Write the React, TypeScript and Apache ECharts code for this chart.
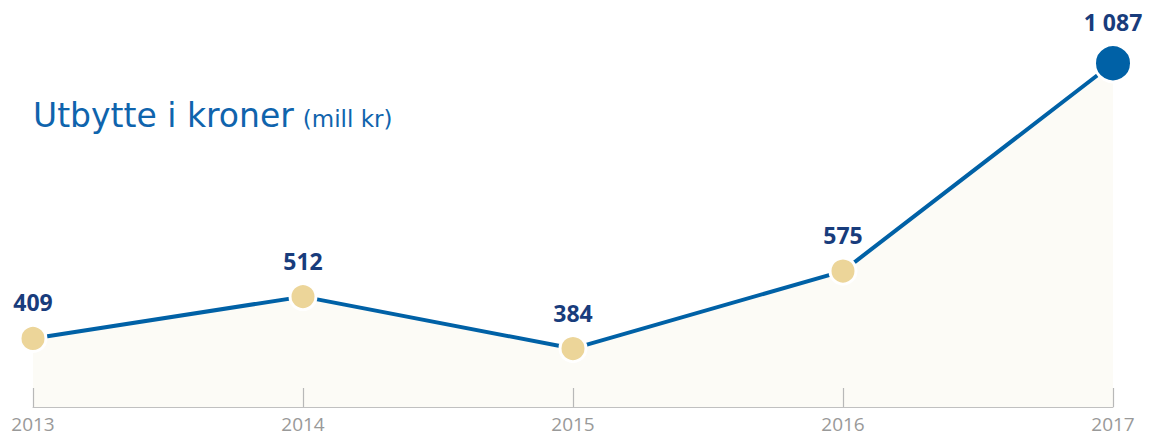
import React, { useEffect, useRef } from "react";
import * as echarts from "echarts";

const years = ["2013", "2014", "2015", "2016", "2017"];
const values = [409, 512, 384, 575, 1087];
const valueLabels = ["409", "512", "384", "575", "1 087"];

export default function App() {
  const ref = useRef<HTMLDivElement>(null);
  useEffect(() => {
    const chart = echarts.init(ref.current!, null, { renderer: "svg" });
    const font = "'Open Sans', 'Noto Sans', sans-serif";
    const titleFont = "'DejaVu Sans', sans-serif";
    const data = values.map((v, i) => {
      const last = i === values.length - 1;
      return {
        value: v,
        symbolSize: last ? 37 : 26,
        itemStyle: {
          color: last ? "#0061a6" : "#ecd599",
          borderColor: "#ffffff",
          borderWidth: 3,
        },
        label: { distance: 10 },
      };
    });
    chart.setOption({
      animation: false,
      textStyle: { fontFamily: font },
      graphic: [
        {
          type: "text",
          left: 33,
          top: 99,
          style: {
            text: "{a|Utbytte i kroner}{b|(mill kr)}",
            rich: {
              a: { fontSize: 33, fill: "#0f64ad", fontFamily: titleFont, fontWeight: 400 },
              b: { fontSize: 23, fill: "#0f64ad", fontFamily: titleFont, fontWeight: 400, padding: [7, 0, 0, 9] },
            },
          },
        },
      ],
      grid: { left: 33, right: 37, top: 58, bottom: 29 },
      xAxis: {
        type: "category",
        data: years,
        boundaryGap: false,
        z: 10,
        axisLine: { lineStyle: { color: "#c0c0c0", width: 1 } },
        axisTick: {
          show: true,
          inside: true,
          length: 19,
          interval: 0,
          lineStyle: { color: "#b8b8b8", width: 1.2 },
        },
        axisLabel: { color: "#999999", fontSize: 19, margin: 7, fontFamily: font },
      },
      yAxis: {
        type: "value",
        min: 240,
        max: 1100,
        show: false,
        splitLine: { show: false },
      },
      series: [
        {
          type: "line",
          data,
          symbol: "circle",
          lineStyle: { color: "#0061a6", width: 4 },
          areaStyle: { color: "#fcfbf6", opacity: 1 },
          z: 1,
          label: {
            show: true,
            position: "top",
            color: "#183c7c",
            fontSize: 23,
            fontWeight: "bold",
            fontFamily: font,
            formatter: (p: any) => valueLabels[p.dataIndex],
          },
        },
      ],
    });
    return () => chart.dispose();
  }, []);
  return (
    <div
      ref={ref}
      style={{ position: "fixed", left: 0, top: 0, width: 1150, height: 436, background: "#fff" }}
    />
  );
}
